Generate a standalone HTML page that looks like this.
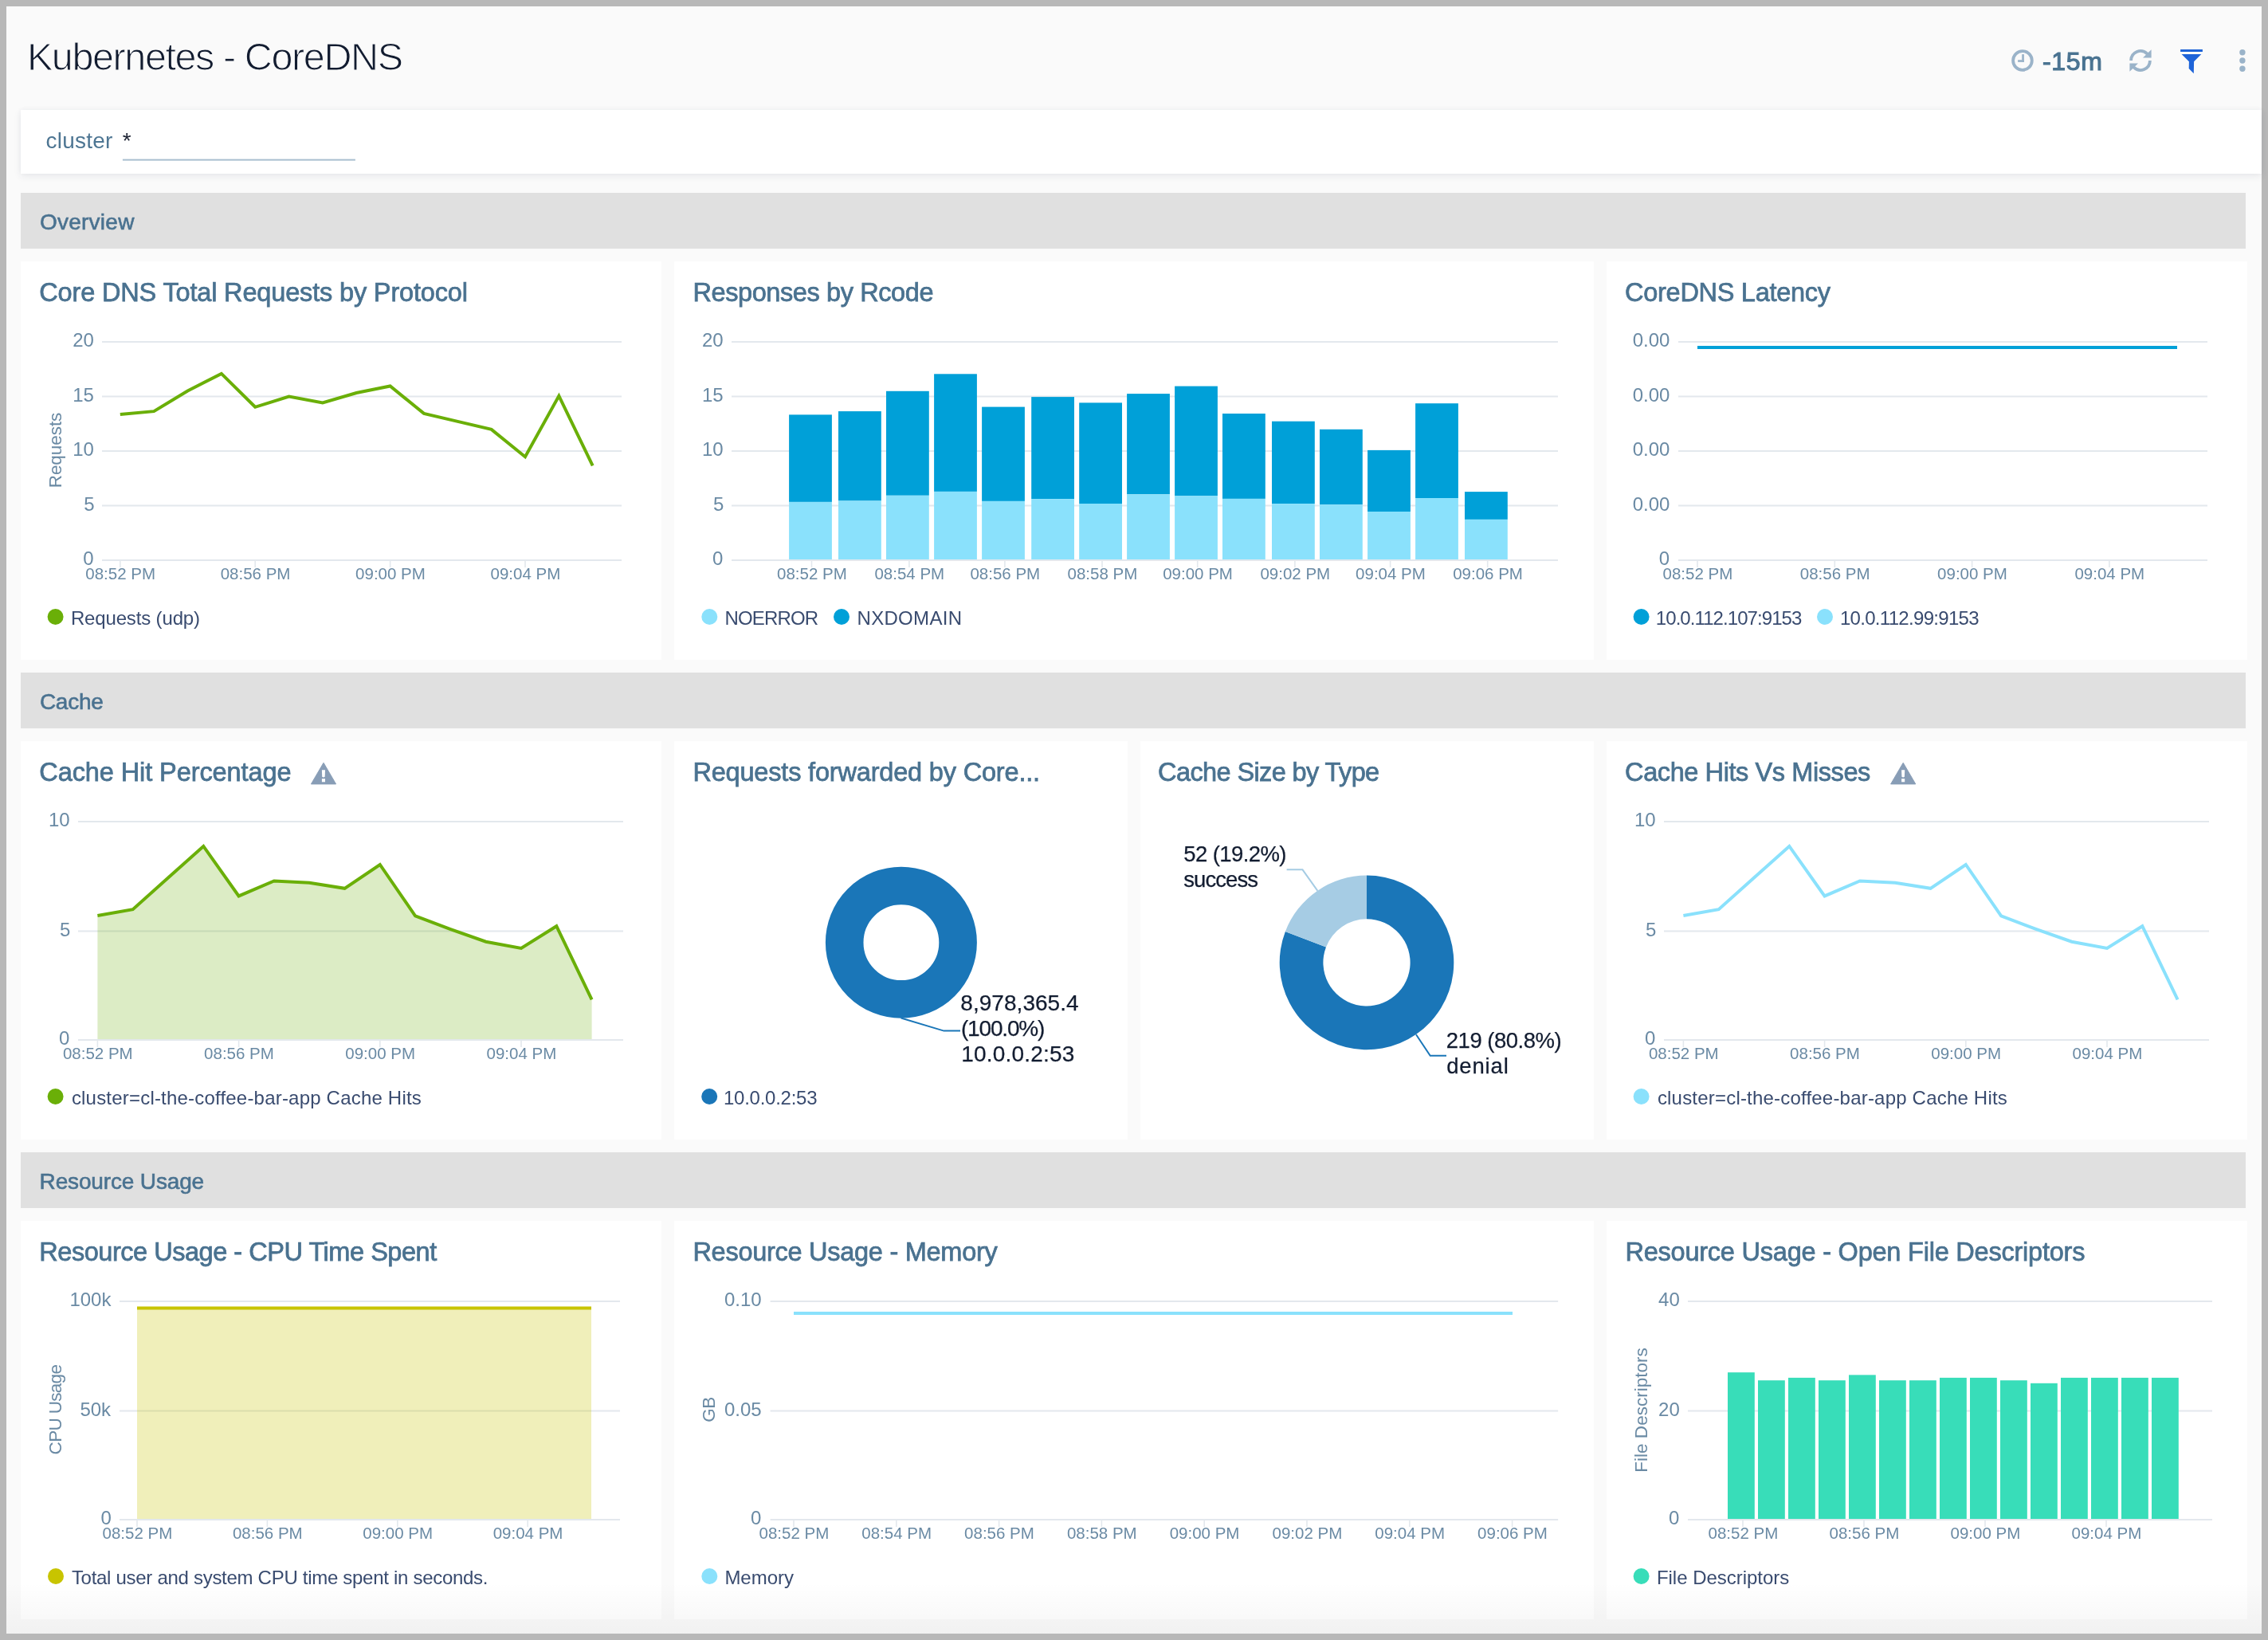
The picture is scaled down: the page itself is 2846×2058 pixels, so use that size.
<!DOCTYPE html>
<html><head><meta charset="utf-8"><title>Kubernetes - CoreDNS</title>
<style>
html,body{margin:0;padding:0;width:2846px;height:2058px;overflow:hidden;background:#b8b8b8;font-family:"Liberation Sans",sans-serif;}
.a{position:absolute}
#page{left:8px;top:8px;width:2830px;height:2042px;background:#fafafa;}
#flt{left:26px;top:138px;width:2812px;height:80px;background:#fff;box-shadow:0 3px 9px rgba(40,60,90,0.09),0 -1px 6px rgba(40,60,90,0.03);}
.sec{left:26px;width:2792px;height:70px;background:#e0e0e0;}
.pn{background:#fff;height:500px;}
#fade{left:8px;top:1985px;width:2830px;height:65px;background:linear-gradient(rgba(0,0,0,0),rgba(0,0,0,0.035));}
svg{position:absolute;left:0;top:0;will-change:transform;font-family:"Liberation Sans",sans-serif;}
</style></head><body>
<div class="a" id="page"></div>
<div class="a" id="flt"></div>
<div class="a sec" style="top:242px"></div>
<div class="a sec" style="top:844px"></div>
<div class="a sec" style="top:1446px"></div>
<div class="a pn" style="left:26px;top:328px;width:804px"></div>
<div class="a pn" style="left:846px;top:328px;width:1154px"></div>
<div class="a pn" style="left:2016px;top:328px;width:804px"></div>
<div class="a pn" style="left:26px;top:930px;width:804px"></div>
<div class="a pn" style="left:846px;top:930px;width:569px"></div>
<div class="a pn" style="left:1431px;top:930px;width:569px"></div>
<div class="a pn" style="left:2016px;top:930px;width:804px"></div>
<div class="a pn" style="left:26px;top:1532px;width:804px"></div>
<div class="a pn" style="left:846px;top:1532px;width:1154px"></div>
<div class="a pn" style="left:2016px;top:1532px;width:804px"></div>
<div class="a" id="fade"></div>
<svg width="2846" height="2058" viewBox="0 0 2846 2058">
<rect x="128" y="428.00" width="652" height="2" fill="#e3e8ed"/>
<rect x="128" y="496.50" width="652" height="2" fill="#e3e8ed"/>
<rect x="128" y="565.00" width="652" height="2" fill="#e3e8ed"/>
<rect x="128" y="633.50" width="652" height="2" fill="#e3e8ed"/>
<rect x="128" y="702.00" width="652" height="2" fill="#e3e8ed"/>
<rect x="150.00" y="704.00" width="1.6" height="8" fill="#e3e8ed"/>
<rect x="319.40" y="704.00" width="1.6" height="8" fill="#e3e8ed"/>
<rect x="488.80" y="704.00" width="1.6" height="8" fill="#e3e8ed"/>
<rect x="658.20" y="704.00" width="1.6" height="8" fill="#e3e8ed"/>
<polyline points="150.80,519.97 193.15,516.13 235.50,490.51 277.85,468.87 320.20,510.79 362.55,497.64 404.90,505.45 447.25,492.98 489.60,484.49 531.95,518.87 574.30,528.87 616.65,538.87 659.00,573.26 701.35,496.81 743.70,584.36" fill="none" stroke="#6aaf08" stroke-width="4" stroke-linejoin="miter" stroke-miterlimit="3"/>
<circle cx="69.6" cy="774" r="10" fill="#6aaf08"/>
<rect x="918" y="428.00" width="1037" height="2" fill="#e3e8ed"/>
<rect x="918" y="496.50" width="1037" height="2" fill="#e3e8ed"/>
<rect x="918" y="565.00" width="1037" height="2" fill="#e3e8ed"/>
<rect x="918" y="633.50" width="1037" height="2" fill="#e3e8ed"/>
<rect x="918" y="702.00" width="1037" height="2" fill="#e3e8ed"/>
<rect x="990.10" y="520.40" width="53.8" height="109.50" fill="#00a0d8"/>
<rect x="990.10" y="629.90" width="53.8" height="72.10" fill="#8ae1fc"/>
<rect x="1052.00" y="516.10" width="53.8" height="112.40" fill="#00a0d8"/>
<rect x="1052.00" y="628.50" width="53.8" height="73.50" fill="#8ae1fc"/>
<rect x="1112.00" y="490.80" width="53.8" height="131.00" fill="#00a0d8"/>
<rect x="1112.00" y="621.80" width="53.8" height="80.20" fill="#8ae1fc"/>
<rect x="1172.10" y="469.30" width="53.8" height="147.60" fill="#00a0d8"/>
<rect x="1172.10" y="616.90" width="53.8" height="85.10" fill="#8ae1fc"/>
<rect x="1232.10" y="510.60" width="53.8" height="118.30" fill="#00a0d8"/>
<rect x="1232.10" y="628.90" width="53.8" height="73.10" fill="#8ae1fc"/>
<rect x="1294.20" y="498.10" width="53.8" height="128.00" fill="#00a0d8"/>
<rect x="1294.20" y="626.10" width="53.8" height="75.90" fill="#8ae1fc"/>
<rect x="1354.20" y="505.40" width="53.8" height="126.60" fill="#00a0d8"/>
<rect x="1354.20" y="632.00" width="53.8" height="70.00" fill="#8ae1fc"/>
<rect x="1414.10" y="494.10" width="53.8" height="126.30" fill="#00a0d8"/>
<rect x="1414.10" y="620.40" width="53.8" height="81.60" fill="#8ae1fc"/>
<rect x="1474.10" y="484.60" width="53.8" height="137.80" fill="#00a0d8"/>
<rect x="1474.10" y="622.40" width="53.8" height="79.60" fill="#8ae1fc"/>
<rect x="1534.00" y="519.00" width="53.8" height="106.90" fill="#00a0d8"/>
<rect x="1534.00" y="625.90" width="53.8" height="76.10" fill="#8ae1fc"/>
<rect x="1596.00" y="528.70" width="53.8" height="103.40" fill="#00a0d8"/>
<rect x="1596.00" y="632.10" width="53.8" height="69.90" fill="#8ae1fc"/>
<rect x="1656.00" y="538.80" width="53.8" height="94.40" fill="#00a0d8"/>
<rect x="1656.00" y="633.20" width="53.8" height="68.80" fill="#8ae1fc"/>
<rect x="1716.10" y="564.90" width="53.8" height="77.10" fill="#00a0d8"/>
<rect x="1716.10" y="642.00" width="53.8" height="60.00" fill="#8ae1fc"/>
<rect x="1776.10" y="506.20" width="53.8" height="118.80" fill="#00a0d8"/>
<rect x="1776.10" y="625.00" width="53.8" height="77.00" fill="#8ae1fc"/>
<rect x="1838.00" y="617.10" width="53.8" height="34.80" fill="#00a0d8"/>
<rect x="1838.00" y="651.90" width="53.8" height="50.10" fill="#8ae1fc"/>
<rect x="1017.70" y="704.00" width="1.6" height="8" fill="#e3e8ed"/>
<rect x="1140.10" y="704.00" width="1.6" height="8" fill="#e3e8ed"/>
<rect x="1260.10" y="704.00" width="1.6" height="8" fill="#e3e8ed"/>
<rect x="1382.20" y="704.00" width="1.6" height="8" fill="#e3e8ed"/>
<rect x="1501.90" y="704.00" width="1.6" height="8" fill="#e3e8ed"/>
<rect x="1624.10" y="704.00" width="1.6" height="8" fill="#e3e8ed"/>
<rect x="1743.80" y="704.00" width="1.6" height="8" fill="#e3e8ed"/>
<rect x="1865.90" y="704.00" width="1.6" height="8" fill="#e3e8ed"/>
<circle cx="890.3" cy="774" r="10" fill="#8ae1fc"/>
<circle cx="1056" cy="774" r="10" fill="#00a0d8"/>
<rect x="2106" y="428.00" width="664" height="2" fill="#e3e8ed"/>
<rect x="2106" y="496.50" width="664" height="2" fill="#e3e8ed"/>
<rect x="2106" y="565.00" width="664" height="2" fill="#e3e8ed"/>
<rect x="2106" y="633.50" width="664" height="2" fill="#e3e8ed"/>
<rect x="2106" y="702.00" width="664" height="2" fill="#e3e8ed"/>
<rect x="2130" y="434" width="602" height="4" fill="#00a0d8"/>
<rect x="2129.20" y="704.00" width="1.6" height="8" fill="#e3e8ed"/>
<rect x="2301.50" y="704.00" width="1.6" height="8" fill="#e3e8ed"/>
<rect x="2473.80" y="704.00" width="1.6" height="8" fill="#e3e8ed"/>
<rect x="2646.10" y="704.00" width="1.6" height="8" fill="#e3e8ed"/>
<circle cx="2059.6" cy="774" r="10" fill="#00a0d8"/>
<circle cx="2290" cy="774" r="10" fill="#8ae1fc"/>
<path d="M406.0,957.2 L421.6,983.9 L390.4,983.9 Z" fill="#889db6" stroke="#889db6" stroke-width="1" stroke-linejoin="round"/>
<path d="M403.9,966.2 L408.0,966.2 L407.7,974.7 Q405.9,976.2 404.2,974.7 Z" fill="#fff"/>
<rect x="403.9" y="977.2" width="4.1" height="4.1" fill="#fff"/>
<rect x="98" y="1030.00" width="684" height="2" fill="#e3e8ed"/>
<rect x="98" y="1167.50" width="684" height="2" fill="#e3e8ed"/>
<rect x="98" y="1304.00" width="684" height="2" fill="#e3e8ed"/>
<polygon points="122.40,1304.00 122.40,1149.09 166.70,1141.15 211.00,1101.42 255.30,1061.96 299.60,1124.43 343.90,1105.53 388.20,1107.72 432.50,1114.84 476.80,1084.98 521.10,1149.37 565.40,1166.08 609.70,1181.70 654.00,1189.92 698.30,1162.25 742.60,1254.31 742.60,1304.00" fill="rgba(106,175,8,0.235)"/>
<polyline points="122.40,1149.09 166.70,1141.15 211.00,1101.42 255.30,1061.96 299.60,1124.43 343.90,1105.53 388.20,1107.72 432.50,1114.84 476.80,1084.98 521.10,1149.37 565.40,1166.08 609.70,1181.70 654.00,1189.92 698.30,1162.25 742.60,1254.31" fill="none" stroke="#6aaf08" stroke-width="4" stroke-linejoin="miter" stroke-miterlimit="3"/>
<rect x="121.60" y="1306.00" width="1.6" height="8" fill="#e3e8ed"/>
<rect x="298.80" y="1306.00" width="1.6" height="8" fill="#e3e8ed"/>
<rect x="476.00" y="1306.00" width="1.6" height="8" fill="#e3e8ed"/>
<rect x="653.20" y="1306.00" width="1.6" height="8" fill="#e3e8ed"/>
<circle cx="69.6" cy="1376" r="10" fill="#6aaf08"/>
<path d="M2388.2,957.2 L2403.8,983.9 L2372.6,983.9 Z" fill="#889db6" stroke="#889db6" stroke-width="1" stroke-linejoin="round"/>
<path d="M2386.1,966.2 L2390.2,966.2 L2389.9,974.7 Q2388.2,976.2 2386.4,974.7 Z" fill="#fff"/>
<rect x="2386.1" y="977.2" width="4.1" height="4.1" fill="#fff"/>
<rect x="2088" y="1030.00" width="684" height="2" fill="#e3e8ed"/>
<rect x="2088" y="1167.50" width="684" height="2" fill="#e3e8ed"/>
<rect x="2088" y="1304.00" width="684" height="2" fill="#e3e8ed"/>
<polyline points="2112.40,1149.09 2156.70,1141.15 2201.00,1101.42 2245.30,1061.96 2289.60,1124.43 2333.90,1105.53 2378.20,1107.72 2422.50,1114.84 2466.80,1084.98 2511.10,1149.37 2555.40,1166.08 2599.70,1181.70 2644.00,1189.92 2688.30,1162.25 2732.60,1254.31" fill="none" stroke="#8ae1fc" stroke-width="4" stroke-linejoin="miter" stroke-miterlimit="3"/>
<rect x="2111.60" y="1306.00" width="1.6" height="8" fill="#e3e8ed"/>
<rect x="2288.80" y="1306.00" width="1.6" height="8" fill="#e3e8ed"/>
<rect x="2466.00" y="1306.00" width="1.6" height="8" fill="#e3e8ed"/>
<rect x="2643.20" y="1306.00" width="1.6" height="8" fill="#e3e8ed"/>
<circle cx="2059.6" cy="1376" r="10" fill="#8ae1fc"/>
<circle cx="1130.9" cy="1182.7" r="71.2" fill="none" stroke="#1a76b8" stroke-width="47.6"/>
<polyline points="1130.7,1277.5 1184.4,1293.6 1205,1293.6" fill="none" stroke="#1a76b8" stroke-width="2"/>
<circle cx="890.2" cy="1376" r="10" fill="#1a76b8"/>
<path d="M1715.00,1098.60 A109.3,109.3 0 1 1 1612.88,1168.94 L1663.99,1188.44 A54.6,54.6 0 1 0 1715.00,1153.30 Z" fill="#1a76b8"/>
<path d="M1612.88,1168.94 A109.3,109.3 0 0 1 1715.00,1098.60 L1715.00,1153.30 A54.6,54.6 0 0 0 1663.99,1188.44 Z" fill="#a6cce4"/>
<polyline points="1653.4,1117.8 1634.5,1091.3 1614.6,1091.3" fill="none" stroke="#a6cce4" stroke-width="2"/>
<polyline points="1777,1298.3 1794.7,1324.8 1815,1324.8" fill="none" stroke="#1a76b8" stroke-width="2"/>
<rect x="150" y="1632.00" width="628" height="2" fill="#e3e8ed"/>
<rect x="150" y="1769.50" width="628" height="2" fill="#e3e8ed"/>
<rect x="150" y="1906.00" width="628" height="2" fill="#e3e8ed"/>
<rect x="172" y="1641.5" width="570" height="264.50" fill="rgba(200,196,0,0.27)"/>
<rect x="172" y="1639.5" width="570" height="4" fill="#c8c400"/>
<rect x="171.20" y="1908.00" width="1.6" height="8" fill="#e3e8ed"/>
<rect x="334.60" y="1908.00" width="1.6" height="8" fill="#e3e8ed"/>
<rect x="498.00" y="1908.00" width="1.6" height="8" fill="#e3e8ed"/>
<rect x="661.40" y="1908.00" width="1.6" height="8" fill="#e3e8ed"/>
<circle cx="70" cy="1978" r="10" fill="#c8c400"/>
<rect x="966.6" y="1632.00" width="988.6" height="2" fill="#e3e8ed"/>
<rect x="966.6" y="1769.50" width="988.6" height="2" fill="#e3e8ed"/>
<rect x="966.6" y="1906.00" width="988.6" height="2" fill="#e3e8ed"/>
<rect x="996" y="1646" width="902" height="4" fill="#8ae1fc"/>
<rect x="995.20" y="1908.00" width="1.6" height="8" fill="#e3e8ed"/>
<rect x="1124.00" y="1908.00" width="1.6" height="8" fill="#e3e8ed"/>
<rect x="1252.80" y="1908.00" width="1.6" height="8" fill="#e3e8ed"/>
<rect x="1381.60" y="1908.00" width="1.6" height="8" fill="#e3e8ed"/>
<rect x="1510.40" y="1908.00" width="1.6" height="8" fill="#e3e8ed"/>
<rect x="1639.20" y="1908.00" width="1.6" height="8" fill="#e3e8ed"/>
<rect x="1768.00" y="1908.00" width="1.6" height="8" fill="#e3e8ed"/>
<rect x="1896.80" y="1908.00" width="1.6" height="8" fill="#e3e8ed"/>
<circle cx="890.3" cy="1978" r="10" fill="#8ae1fc"/>
<rect x="2118" y="1632.00" width="658" height="2" fill="#e3e8ed"/>
<rect x="2118" y="1769.50" width="658" height="2" fill="#e3e8ed"/>
<rect x="2118" y="1906.00" width="658" height="2" fill="#e3e8ed"/>
<rect x="2168.00" y="1722.20" width="33.8" height="183.80" fill="#38ddb9"/>
<rect x="2206.00" y="1732.20" width="33.8" height="173.80" fill="#38ddb9"/>
<rect x="2244.00" y="1728.90" width="33.8" height="177.10" fill="#38ddb9"/>
<rect x="2282.00" y="1732.20" width="33.8" height="173.80" fill="#38ddb9"/>
<rect x="2320.00" y="1725.40" width="33.8" height="180.60" fill="#38ddb9"/>
<rect x="2358.00" y="1732.20" width="33.8" height="173.80" fill="#38ddb9"/>
<rect x="2396.00" y="1732.20" width="33.8" height="173.80" fill="#38ddb9"/>
<rect x="2434.00" y="1728.90" width="33.8" height="177.10" fill="#38ddb9"/>
<rect x="2472.00" y="1728.90" width="33.8" height="177.10" fill="#38ddb9"/>
<rect x="2510.00" y="1732.20" width="33.8" height="173.80" fill="#38ddb9"/>
<rect x="2548.00" y="1735.80" width="33.8" height="170.20" fill="#38ddb9"/>
<rect x="2586.00" y="1728.90" width="33.8" height="177.10" fill="#38ddb9"/>
<rect x="2624.00" y="1728.90" width="33.8" height="177.10" fill="#38ddb9"/>
<rect x="2662.00" y="1728.90" width="33.8" height="177.10" fill="#38ddb9"/>
<rect x="2700.00" y="1728.90" width="33.8" height="177.10" fill="#38ddb9"/>
<rect x="2186.20" y="1908.00" width="1.6" height="8" fill="#e3e8ed"/>
<rect x="2338.20" y="1908.00" width="1.6" height="8" fill="#e3e8ed"/>
<rect x="2490.20" y="1908.00" width="1.6" height="8" fill="#e3e8ed"/>
<rect x="2642.20" y="1908.00" width="1.6" height="8" fill="#e3e8ed"/>
<circle cx="2059.6" cy="1978" r="10" fill="#38ddb9"/>

<circle cx="2537.95" cy="75.95" r="11.85" fill="none" stroke="#9ab3c9" stroke-width="3.8"/>
<rect x="2537.2" y="68.1" width="2.7" height="9.8" fill="#9ab3c9"/>
<rect x="2532.1" y="75.2" width="7.8" height="2.7" fill="#9ab3c9"/>
<g transform="translate(2668,58)" fill="#9ab3c9">
  <path d="M4.2,18 A13.8,13.8 0 0 1 27.62,8.1 L31.6,4.2 L31.6,14.6 L21,14.6 L24.9,10.77 A10,10 0 0 0 8,18 Z"/>
  <path d="M31.8,18 A13.8,13.8 0 0 1 8.38,27.9 L4.4,31.8 L4.4,21.4 L15,21.4 L11.1,25.23 A10,10 0 0 0 28,18 Z"/>
</g>
<rect x="2736.1" y="62" width="27.8" height="3" fill="#1d63d8"/>
<path d="M2737.6,68.1 L2762.3,68.1 L2753.1,77.3 L2752.8,92.2 L2746.7,85.9 L2746.9,77.3 Z" fill="#1d63d8"/>
<circle cx="2813.9" cy="65.7" r="3.7" fill="#9ab3c9"/>
<circle cx="2813.9" cy="76" r="3.7" fill="#9ab3c9"/>
<circle cx="2813.9" cy="86.3" r="3.7" fill="#9ab3c9"/>
<rect x="153.9" y="199.6" width="292" height="2" fill="#a8bed0"/>

<text x="33.90" y="87.80" fill="#121c30" style="font-size:48.5px;letter-spacing:-1.40px;" stroke="#fafafa" stroke-width="1.1">Kubernetes - CoreDNS</text>
<text x="2563.00" y="87.90" fill="#4a7391" style="font-size:32px;letter-spacing:0.67px;" stroke="#4a7391" stroke-width="1.1">-15m</text>
<text x="57.50" y="186.10" fill="#4e7693" style="font-size:28px;letter-spacing:0.23px;">cluster</text>
<text x="153.80" y="186.10" fill="#1f2535" style="font-size:28px;">*</text>
<text x="49.90" y="288.00" fill="#4a7290" style="font-size:28px;letter-spacing:0.26px;" stroke="#4a7290" stroke-width="0.6">Overview</text>
<text x="49.90" y="890.00" fill="#4a7290" style="font-size:28px;letter-spacing:-0.25px;" stroke="#4a7290" stroke-width="0.6">Cache</text>
<text x="49.60" y="1492.00" fill="#4a7290" style="font-size:28px;letter-spacing:-0.15px;" stroke="#4a7290" stroke-width="0.6">Resource Usage</text>
<text x="49.30" y="377.80" fill="#4a7290" style="font-size:32.5px;letter-spacing:-0.16px;" stroke="#4a7290" stroke-width="0.75">Core DNS Total Requests by Protocol</text>
<text x="91.20" y="435.10" fill="#6a8aa4" style="font-size:24px;">20</text>
<text x="91.20" y="503.60" fill="#6a8aa4" style="font-size:24px;">15</text>
<text x="91.20" y="572.10" fill="#6a8aa4" style="font-size:24px;">10</text>
<text x="105.20" y="640.60" fill="#6a8aa4" style="font-size:24px;">5</text>
<text x="104.20" y="709.10" fill="#6a8aa4" style="font-size:24px;">0</text>
<text transform="translate(77.00,0) rotate(-90)" x="-612.30" y="0" fill="#6a8aa4" style="font-size:22.5px;letter-spacing:-0.06px;">Requests</text>
<text x="107.30" y="727.30" fill="#6a8aa4" style="font-size:20.5px;">08:52 PM</text>
<text x="276.70" y="727.30" fill="#6a8aa4" style="font-size:20.5px;">08:56 PM</text>
<text x="446.10" y="727.30" fill="#6a8aa4" style="font-size:20.5px;">09:00 PM</text>
<text x="615.50" y="727.30" fill="#6a8aa4" style="font-size:20.5px;">09:04 PM</text>
<text x="88.90" y="783.50" fill="#394b6f" style="font-size:24px;letter-spacing:-0.15px;">Requests (udp)</text>
<text x="869.40" y="377.80" fill="#4a7290" style="font-size:32.5px;letter-spacing:-0.40px;" stroke="#4a7290" stroke-width="0.75">Responses by Rcode</text>
<text x="881.00" y="435.10" fill="#6a8aa4" style="font-size:24px;">20</text>
<text x="881.00" y="503.60" fill="#6a8aa4" style="font-size:24px;">15</text>
<text x="881.00" y="572.10" fill="#6a8aa4" style="font-size:24px;">10</text>
<text x="895.00" y="640.60" fill="#6a8aa4" style="font-size:24px;">5</text>
<text x="894.00" y="709.10" fill="#6a8aa4" style="font-size:24px;">0</text>
<text x="975.00" y="727.30" fill="#6a8aa4" style="font-size:20.5px;">08:52 PM</text>
<text x="1097.40" y="727.30" fill="#6a8aa4" style="font-size:20.5px;">08:54 PM</text>
<text x="1217.40" y="727.30" fill="#6a8aa4" style="font-size:20.5px;">08:56 PM</text>
<text x="1339.50" y="727.30" fill="#6a8aa4" style="font-size:20.5px;">08:58 PM</text>
<text x="1459.20" y="727.30" fill="#6a8aa4" style="font-size:20.5px;">09:00 PM</text>
<text x="1581.40" y="727.30" fill="#6a8aa4" style="font-size:20.5px;">09:02 PM</text>
<text x="1701.10" y="727.30" fill="#6a8aa4" style="font-size:20.5px;">09:04 PM</text>
<text x="1823.20" y="727.30" fill="#6a8aa4" style="font-size:20.5px;">09:06 PM</text>
<text x="909.50" y="783.50" fill="#394b6f" style="font-size:24px;letter-spacing:-0.83px;">NOERROR</text>
<text x="1075.50" y="783.50" fill="#394b6f" style="font-size:24px;letter-spacing:0.31px;">NXDOMAIN</text>
<text x="2039.10" y="377.80" fill="#4a7290" style="font-size:32.5px;letter-spacing:-0.29px;" stroke="#4a7290" stroke-width="0.75">CoreDNS Latency</text>
<text x="2048.70" y="435.10" fill="#6a8aa4" style="font-size:24px;">0.00</text>
<text x="2048.70" y="503.60" fill="#6a8aa4" style="font-size:24px;">0.00</text>
<text x="2048.70" y="572.10" fill="#6a8aa4" style="font-size:24px;">0.00</text>
<text x="2048.70" y="640.60" fill="#6a8aa4" style="font-size:24px;">0.00</text>
<text x="2081.70" y="709.10" fill="#6a8aa4" style="font-size:24px;">0</text>
<text x="2086.50" y="727.30" fill="#6a8aa4" style="font-size:20.5px;">08:52 PM</text>
<text x="2258.80" y="727.30" fill="#6a8aa4" style="font-size:20.5px;">08:56 PM</text>
<text x="2431.10" y="727.30" fill="#6a8aa4" style="font-size:20.5px;">09:00 PM</text>
<text x="2603.40" y="727.30" fill="#6a8aa4" style="font-size:20.5px;">09:04 PM</text>
<text x="2077.80" y="783.50" fill="#394b6f" style="font-size:24px;letter-spacing:-0.93px;">10.0.112.107:9153</text>
<text x="2308.90" y="783.50" fill="#394b6f" style="font-size:24px;letter-spacing:-0.69px;">10.0.112.99:9153</text>
<text x="49.30" y="979.80" fill="#4a7290" style="font-size:32.5px;letter-spacing:-0.09px;" stroke="#4a7290" stroke-width="0.75">Cache Hit Percentage</text>
<text x="61.00" y="1037.10" fill="#6a8aa4" style="font-size:24px;">10</text>
<text x="75.00" y="1174.60" fill="#6a8aa4" style="font-size:24px;">5</text>
<text x="74.00" y="1311.10" fill="#6a8aa4" style="font-size:24px;">0</text>
<text x="78.90" y="1329.30" fill="#6a8aa4" style="font-size:20.5px;">08:52 PM</text>
<text x="256.10" y="1329.30" fill="#6a8aa4" style="font-size:20.5px;">08:56 PM</text>
<text x="433.30" y="1329.30" fill="#6a8aa4" style="font-size:20.5px;">09:00 PM</text>
<text x="610.50" y="1329.30" fill="#6a8aa4" style="font-size:20.5px;">09:04 PM</text>
<text x="89.90" y="1385.50" fill="#394b6f" style="font-size:24px;letter-spacing:0.20px;">cluster=cl-the-coffee-bar-app Cache Hits</text>
<text x="2039.10" y="979.80" fill="#4a7290" style="font-size:32.5px;letter-spacing:-0.41px;" stroke="#4a7290" stroke-width="0.75">Cache Hits Vs Misses</text>
<text x="2051.00" y="1037.10" fill="#6a8aa4" style="font-size:24px;">10</text>
<text x="2065.00" y="1174.60" fill="#6a8aa4" style="font-size:24px;">5</text>
<text x="2064.00" y="1311.10" fill="#6a8aa4" style="font-size:24px;">0</text>
<text x="2068.90" y="1329.30" fill="#6a8aa4" style="font-size:20.5px;">08:52 PM</text>
<text x="2246.10" y="1329.30" fill="#6a8aa4" style="font-size:20.5px;">08:56 PM</text>
<text x="2423.30" y="1329.30" fill="#6a8aa4" style="font-size:20.5px;">09:00 PM</text>
<text x="2600.50" y="1329.30" fill="#6a8aa4" style="font-size:20.5px;">09:04 PM</text>
<text x="2079.90" y="1385.50" fill="#394b6f" style="font-size:24px;letter-spacing:0.20px;">cluster=cl-the-coffee-bar-app Cache Hits</text>
<text x="869.40" y="979.80" fill="#4a7290" style="font-size:32.5px;letter-spacing:-0.18px;" stroke="#4a7290" stroke-width="0.75">Requests forwarded by Core...</text>
<text x="1205.30" y="1267.90" fill="#121c30" style="font-size:28px;letter-spacing:0.04px;" stroke="#121c30" stroke-width="0.25">8,978,365.4</text>
<text x="1205.90" y="1299.80" fill="#121c30" style="font-size:28px;letter-spacing:-1.16px;" stroke="#121c30" stroke-width="0.25">(100.0%)</text>
<text x="1206.30" y="1331.60" fill="#121c30" style="font-size:28px;letter-spacing:0.18px;" stroke="#121c30" stroke-width="0.25">10.0.0.2:53</text>
<text x="908.00" y="1385.50" fill="#394b6f" style="font-size:24px;letter-spacing:-0.26px;">10.0.0.2:53</text>
<text x="1453.10" y="979.80" fill="#4a7290" style="font-size:32.5px;letter-spacing:-0.61px;" stroke="#4a7290" stroke-width="0.75">Cache Size by Type</text>
<text x="1485.30" y="1081.20" fill="#121c30" style="font-size:27.5px;letter-spacing:-0.60px;" stroke="#121c30" stroke-width="0.25">52 (19.2%)</text>
<text x="1485.30" y="1112.90" fill="#121c30" style="font-size:27.5px;letter-spacing:-0.93px;" stroke="#121c30" stroke-width="0.25">success</text>
<text x="1814.80" y="1314.80" fill="#121c30" style="font-size:27.5px;letter-spacing:-0.50px;" stroke="#121c30" stroke-width="0.25">219 (80.8%)</text>
<text x="1815.20" y="1346.50" fill="#121c30" style="font-size:27.5px;letter-spacing:0.84px;" stroke="#121c30" stroke-width="0.25">denial</text>
<text x="49.30" y="1581.80" fill="#4a7290" style="font-size:32.5px;letter-spacing:-0.47px;" stroke="#4a7290" stroke-width="0.75">Resource Usage - CPU Time Spent</text>
<text x="87.40" y="1639.10" fill="#6a8aa4" style="font-size:24px;">100k</text>
<text x="100.40" y="1776.60" fill="#6a8aa4" style="font-size:24px;">50k</text>
<text x="126.40" y="1913.10" fill="#6a8aa4" style="font-size:24px;">0</text>
<text transform="translate(77.00,0) rotate(-90)" x="-1825.40" y="0" fill="#6a8aa4" style="font-size:22.5px;letter-spacing:-0.68px;">CPU Usage</text>
<text x="128.50" y="1931.30" fill="#6a8aa4" style="font-size:20.5px;">08:52 PM</text>
<text x="291.90" y="1931.30" fill="#6a8aa4" style="font-size:20.5px;">08:56 PM</text>
<text x="455.30" y="1931.30" fill="#6a8aa4" style="font-size:20.5px;">09:00 PM</text>
<text x="618.70" y="1931.30" fill="#6a8aa4" style="font-size:20.5px;">09:04 PM</text>
<text x="89.90" y="1987.50" fill="#394b6f" style="font-size:24px;letter-spacing:-0.29px;">Total user and system CPU time spent in seconds.</text>
<text x="869.40" y="1581.80" fill="#4a7290" style="font-size:32.5px;letter-spacing:-0.27px;" stroke="#4a7290" stroke-width="0.75">Resource Usage - Memory</text>
<text x="908.90" y="1639.10" fill="#6a8aa4" style="font-size:24px;">0.10</text>
<text x="908.90" y="1776.60" fill="#6a8aa4" style="font-size:24px;">0.05</text>
<text x="941.90" y="1913.10" fill="#6a8aa4" style="font-size:24px;">0</text>
<text transform="translate(897.00,0) rotate(-90)" x="-1784.85" y="0" fill="#6a8aa4" style="font-size:22.5px;letter-spacing:-0.30px;">GB</text>
<text x="952.50" y="1931.30" fill="#6a8aa4" style="font-size:20.5px;">08:52 PM</text>
<text x="1081.30" y="1931.30" fill="#6a8aa4" style="font-size:20.5px;">08:54 PM</text>
<text x="1210.10" y="1931.30" fill="#6a8aa4" style="font-size:20.5px;">08:56 PM</text>
<text x="1338.90" y="1931.30" fill="#6a8aa4" style="font-size:20.5px;">08:58 PM</text>
<text x="1467.70" y="1931.30" fill="#6a8aa4" style="font-size:20.5px;">09:00 PM</text>
<text x="1596.50" y="1931.30" fill="#6a8aa4" style="font-size:20.5px;">09:02 PM</text>
<text x="1725.30" y="1931.30" fill="#6a8aa4" style="font-size:20.5px;">09:04 PM</text>
<text x="1854.10" y="1931.30" fill="#6a8aa4" style="font-size:20.5px;">09:06 PM</text>
<text x="909.40" y="1987.50" fill="#394b6f" style="font-size:24px;letter-spacing:-0.02px;">Memory</text>
<text x="2039.40" y="1581.80" fill="#4a7290" style="font-size:32.5px;letter-spacing:-0.22px;" stroke="#4a7290" stroke-width="0.75">Resource Usage - Open File Descriptors</text>
<text x="2081.10" y="1639.10" fill="#6a8aa4" style="font-size:24px;">40</text>
<text x="2081.10" y="1776.60" fill="#6a8aa4" style="font-size:24px;">20</text>
<text x="2094.10" y="1913.10" fill="#6a8aa4" style="font-size:24px;">0</text>
<text transform="translate(2067.00,0) rotate(-90)" x="-1847.70" y="0" fill="#6a8aa4" style="font-size:22.5px;letter-spacing:0.01px;">File Descriptors</text>
<text x="2143.50" y="1931.30" fill="#6a8aa4" style="font-size:20.5px;">08:52 PM</text>
<text x="2295.50" y="1931.30" fill="#6a8aa4" style="font-size:20.5px;">08:56 PM</text>
<text x="2447.50" y="1931.30" fill="#6a8aa4" style="font-size:20.5px;">09:00 PM</text>
<text x="2599.50" y="1931.30" fill="#6a8aa4" style="font-size:20.5px;">09:04 PM</text>
<text x="2078.90" y="1987.50" fill="#394b6f" style="font-size:24px;letter-spacing:-0.02px;">File Descriptors</text>
</svg>
</body></html>
